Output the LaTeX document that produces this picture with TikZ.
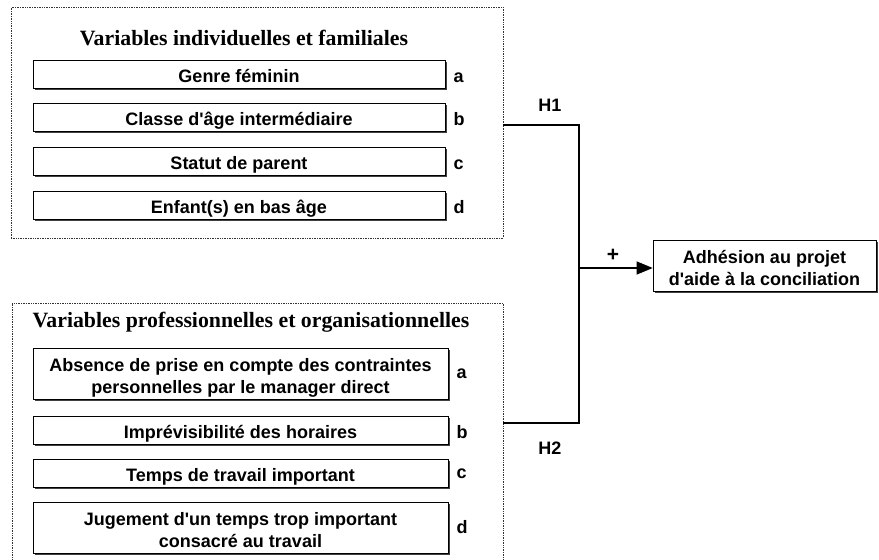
\documentclass[tikz,border=0pt]{standalone}
\usepackage{fontspec}
\usepackage{tikz}
\usetikzlibrary{positioning, shadows, arrows.meta}

\newfontfamily\sansb{Liberation Sans}
\newfontfamily\serifb{Liberation Serif}

\tikzset{
  frame/.style={draw=black!80, densely dotted, line width=0.7pt},
  varbox/.style={draw, line width=0.6pt, fill=white, align=center, inner sep=0pt,
    drop shadow={shadow xshift=1.6pt, shadow yshift=-1.6pt, fill=black!75, opacity=1},
    font=\sansb\bfseries\fontsize{18}{22}\selectfont},
  oneline/.style={minimum height=28pt, text height=17pt, text depth=0pt},
  twoline/.style={minimum height=51pt, text height=39pt, text depth=0pt},
  lbl/.style={inner sep=2pt, font=\sansb\bfseries\fontsize{18}{22}\selectfont},
  grouptitle/.style={font=\serifb\bfseries\fontsize{21.8}{26}\selectfont},
  link/.style={line width=1.2pt}
}

\begin{document}
\begin{tikzpicture}[x=1pt, y=-1pt]
            \useasboundingbox (0,0) rectangle (879,560);

            % first group
            \node[frame, minimum width=492pt, minimum height=231pt] (indiv) at (257,122.5) {};
            \node[grouptitle] (tindiv) at (244,38) {Variables individuelles et familiales};

            \node[varbox, oneline, minimum width=412pt] (ga) at (239,74) {Genre féminin};
            \node[varbox, oneline, minimum width=412pt] (gb) at (239,117) {Classe d'âge intermédiaire};
            \node[varbox, oneline, minimum width=412pt] (gc) at (239,161) {Statut de parent};
            \node[varbox, oneline, minimum width=412pt] (gd) at (239,205) {Enfant(s) en bas âge};
            \node[lbl, anchor=base west] (la) at ([xshift=6pt]ga.base east) {a};
            \node[lbl, anchor=base west] (lb) at ([xshift=6pt]gb.base east) {b};
            \node[lbl, anchor=base west] (lc) at ([xshift=6pt]gc.base east) {c};
            \node[lbl, anchor=base west] (ld) at ([xshift=6pt]gd.base east) {d};

            % second group
            \node[frame, minimum width=491pt, minimum height=272pt] (pro) at (257.5,439) {};
            \node[grouptitle] (tpro) at (251,322) {Variables professionnelles et organisationnelles};

            \node[varbox, twoline, minimum width=415pt] (pa) at (240.5,373.5) {Absence de prise en compte des contraintes\\personnelles par le manager direct};
            \node[varbox, oneline, minimum width=415pt] (pb) at (240.5,430) {Imprévisibilité des horaires};
            \node[varbox, oneline, minimum width=415pt] (pc) at (240.5,473) {Temps de travail important};
            \node[varbox, twoline, minimum width=415pt] (pd) at (240.5,527.5) {Jugement d'un temps trop important\\consacré au travail};
            \node[lbl, right=6pt of pa] (ma) {a};
            \node[lbl, anchor=base west] (mb) at ([xshift=6pt]pb.base east) {b};
            \node[lbl, anchor=base west] (mc) at ([xshift=6pt, yshift=3pt]pc.base east) {c};
            \node[lbl, right=6pt of pd] (md) {d};

            % outcome
            \node[varbox, twoline, minimum width=223pt] (adh) at (764.5,265.5) {Adhésion au projet\\d'aide à la conciliation};

            \coordinate (j1) at (579,125);
            \coordinate (j2) at (579,423);
            \coordinate (jm) at (579,268);
            \draw[link] (indiv.east |- j1) -- (j1) -- (j2) -- (pro.east |- j2);
            \draw[link, -{Triangle[length=16pt, width=13pt]}] (jm) -- (jm -| adh.west);

            \node[lbl] (h1) at (550,105) {H1};
            \node[lbl] (h2) at (550,448) {H2};
            \node[lbl, font=\sansb\bfseries\fontsize{21}{22}\selectfont] (plus) at (613,255) {+};
        \end{tikzpicture}
\end{document}
